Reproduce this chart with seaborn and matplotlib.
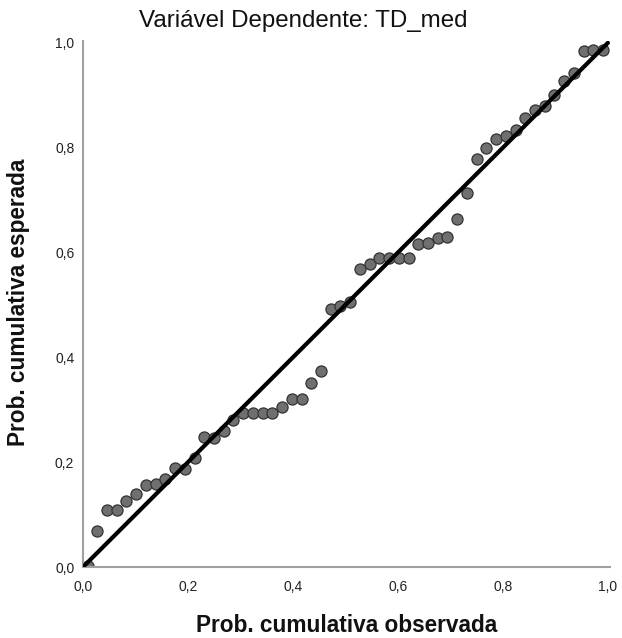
import numpy as np
import pandas as pd
import matplotlib
matplotlib.use("Agg")
import matplotlib.pyplot as plt
import seaborn as sns
from matplotlib.ticker import FuncFormatter

n_points = 54
observed = [(i - 0.5) / n_points for i in range(1, n_points + 1)]
expected = [0.002, 0.069, 0.110, 0.110, 0.127, 0.140, 0.156, 0.158, 0.168, 0.189,
            0.188, 0.208, 0.248, 0.247, 0.259, 0.280, 0.295, 0.295, 0.295, 0.295,
            0.305, 0.321, 0.321, 0.352, 0.375, 0.493, 0.499, 0.505, 0.568, 0.579,
            0.589, 0.589, 0.589, 0.590, 0.617, 0.619, 0.627, 0.629, 0.665, 0.714,
            0.779, 0.800, 0.817, 0.823, 0.834, 0.857, 0.872, 0.880, 0.900, 0.928,
            0.943, 0.985, 0.987, 0.987]
ticks = [0.0, 0.2, 0.4, 0.6, 0.8, 1.0]
title = "Variável Dependente: TD_med"
xlabel = "Prob. cumulativa observada"
ylabel = "Prob. cumulativa esperada"

df = pd.DataFrame({"obs": observed, "exp": expected})

sns.set_theme(style="white")
plt.rcParams['font.family'] = ['Liberation Sans', 'DejaVu Sans']

fig = plt.figure(figsize=(6.22, 6.38), dpi=100)
W, H = 622, 638
left, right, bottom, top = 82.7, 610, 567.3, 40.7
aw, ah = right - left, bottom - top
ax = fig.add_axes([left / W, 1 - bottom / H, aw / W, ah / H])

sns.scatterplot(data=df, x="obs", y="exp", ax=ax, s=64, color="#6f6f6f",
                edgecolor="#333333", linewidth=0.9, zorder=2)
sns.lineplot(x=[0, 1], y=[0, 1], ax=ax, color="black", linewidth=3.0, zorder=3)

ax.set_xlim(0, 1.004)
ax.set_ylim(0, 1.004)
ax.set_xticks(ticks)
ax.set_yticks(ticks)
fmt = FuncFormatter(lambda v, p: f"{v:.1f}".replace(".", ","))
ax.xaxis.set_major_formatter(fmt)
ax.yaxis.set_major_formatter(fmt)
ax.tick_params(axis="both", length=0, labelsize=10, colors="#222222")
ax.tick_params(axis="x", pad=9)
ax.tick_params(axis="y", pad=6)

for s in ["top", "right"]:
    ax.spines[s].set_visible(False)
for s in ["left", "bottom"]:
    ax.spines[s].set_color("#a0a0a0")
    ax.spines[s].set_linewidth(1.5)

ax.set_xlabel(xlabel, fontsize=16.3, fontweight="bold", color="#111111", va="center")
ax.set_ylabel(ylabel, fontsize=16.3, fontweight="bold", color="#111111", va="center")
ax.xaxis.set_label_coords((346.5 - left) / aw, (bottom - 625) / ah)
ax.yaxis.set_label_coords((19 - left) / aw, (bottom - 302) / ah)
fig.text(303.5 / W, 1 - 21 / H, title, ha="center", va="center",
         fontsize=17.4, color="#111111")

fig.savefig("out.png", dpi=100, facecolor="white")
